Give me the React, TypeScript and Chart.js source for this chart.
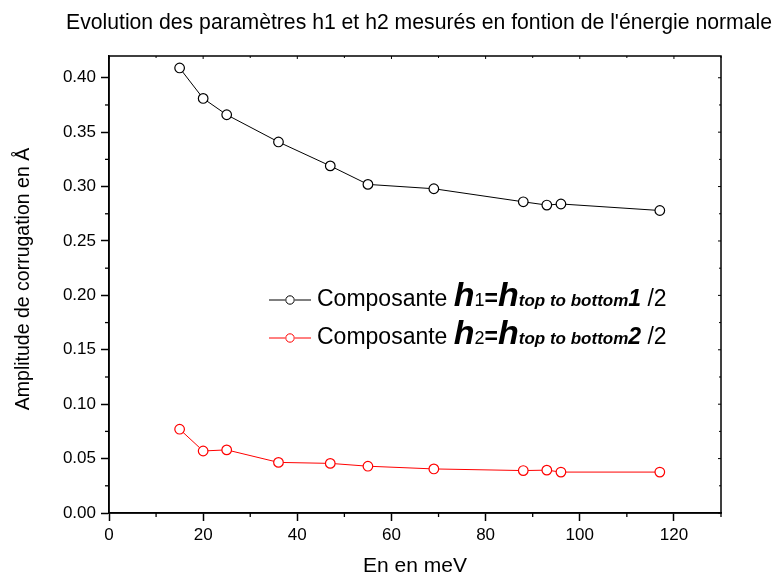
import React, { useEffect, useRef } from "react";
import { Chart, registerables } from "chart.js";
Chart.register(...registerables);

const energies = [15, 20, 25, 36, 47, 55, 69, 88, 93, 96, 117];
const h1Values = [0.409, 0.381, 0.366, 0.341, 0.319, 0.302, 0.298, 0.286, 0.283, 0.284, 0.278];
const h2Values = [0.077, 0.057, 0.058, 0.0465, 0.0456, 0.043, 0.0405, 0.039, 0.0394, 0.0376, 0.0376];
const titleText = "Evolution des paramètres h1 et h2 mesurés en fontion de l'énergie normale";
const xTitle = "En en meV";
const yTitle = "Amplitude de corrugation en Å";
const FONT = "'Liberation Sans', Arial, sans-serif";

const decorPlugin = {
  id: "decor",
  afterDraw(chart: any) {
    const ctx = chart.ctx;
    const { left, right, top, bottom } = chart.chartArea;
    const xs = chart.scales.x;
    const ys = chart.scales.y;
    ctx.save();
    // frame
    ctx.strokeStyle = "#000";
    ctx.lineWidth = 1.5;
    ctx.strokeRect(left, top, right - left, bottom - top);
    // minor & mirror ticks
    ctx.lineWidth = 1.3;
    for (let v = 10; v <= 130; v += 20) {
      const px = xs.getPixelForValue(v);
      ctx.beginPath();
      ctx.moveTo(px, bottom);
      ctx.lineTo(px, bottom + 4);
      ctx.stroke();
    }
    ctx.lineWidth = 1;
    for (let v = 0; v <= 130; v += 10) {
      const px = xs.getPixelForValue(v);
      ctx.beginPath();
      ctx.moveTo(px, top);
      ctx.lineTo(px, top + (v % 20 === 0 ? 3 : 2));
      ctx.stroke();
    }
    ctx.lineWidth = 1.3;
    for (let i = 0; i <= 8; i++) {
      const v = 0.025 + i * 0.05;
      if (v > 0.42) break;
      const py = ys.getPixelForValue(v);
      ctx.beginPath();
      ctx.moveTo(left, py);
      ctx.lineTo(left - 4, py);
      ctx.stroke();
    }
    ctx.lineWidth = 1;
    for (let i = 0; i <= 16; i++) {
      const v = i * 0.025;
      const py = ys.getPixelForValue(v);
      ctx.beginPath();
      ctx.moveTo(right, py);
      ctx.lineTo(right - (i % 2 === 0 ? 3 : 2), py);
      ctx.stroke();
    }
    // title
    ctx.fillStyle = "#000";
    ctx.font = `21.2px ${FONT}`;
    ctx.textAlign = "center";
    ctx.textBaseline = "middle";
    ctx.fillText(titleText, 419, 23);

    // y axis title
    ctx.save();
    ctx.translate(24, 279);
    ctx.rotate(-Math.PI / 2);
    ctx.font = `19.5px ${FONT}`;
    ctx.textAlign = "center";
    ctx.textBaseline = "middle";
    ctx.fillText(yTitle, 0, 0);
    ctx.restore();

    // legend
    const drawRow = (y: number, color: string, digit: string) => {
      ctx.strokeStyle = color;
      ctx.lineWidth = 1;
      ctx.beginPath();
      ctx.moveTo(269, y - 6);
      ctx.lineTo(285, y - 6);
      ctx.moveTo(295, y - 6);
      ctx.lineTo(311, y - 6);
      ctx.stroke();
      ctx.beginPath();
      ctx.arc(290, y - 6, 4.2, 0, Math.PI * 2);
      ctx.fillStyle = "#fff";
      ctx.fill();
      ctx.stroke();
      ctx.textAlign = "left";
      ctx.textBaseline = "alphabetic";
      ctx.fillStyle = "#000";
      let x = 317;
      const parts: [string, string][] = [
        ["Composante ", `23px ${FONT}`],
        ["h", `italic bold 34px ${FONT}`],
        [digit, `18px ${FONT}`],
        ["=", `bold 23px ${FONT}`],
        ["h", `italic bold 34px ${FONT}`],
        ["top to bottom", `italic bold 17px ${FONT}`],
        [digit, `italic bold 23px ${FONT}`],
        [" /2", `23px ${FONT}`],
      ];
      for (const [t, f] of parts) {
        ctx.font = f;
        ctx.fillText(t, x, y);
        x += ctx.measureText(t).width;
      }
    };
    drawRow(306, "#000", "1");
    drawRow(344, "#ff0000", "2");
    ctx.restore();
  },
};

export default function App() {
  const ref = useRef<HTMLCanvasElement | null>(null);
  useEffect(() => {
    if (!ref.current) return;
    const chart = new Chart(ref.current, {
      type: "line",
      data: {
        datasets: [
          {
            label: "h1",
            data: energies.map((e, i) => ({ x: e, y: h1Values[i] })),
            borderColor: "#000",
            borderWidth: 1,
            pointBackgroundColor: "#fff",
            pointBorderColor: "#000",
            pointBorderWidth: 1.2,
            pointRadius: 4.8,
            tension: 0,
          },
          {
            label: "h2",
            data: energies.map((e, i) => ({ x: e, y: h2Values[i] })),
            borderColor: "#ff0000",
            borderWidth: 1,
            pointBackgroundColor: "#fff",
            pointBorderColor: "#ff0000",
            pointBorderWidth: 1.2,
            pointRadius: 4.8,
            tension: 0,
          },
        ],
      },
      options: {
        animation: false,
        responsive: false,
        maintainAspectRatio: false,
        layout: { padding: { top: 56, right: 61, left: 0, bottom: 0 } },
        plugins: { legend: { display: false }, tooltip: { enabled: false }, title: { display: false } },
        scales: {
          x: {
            type: "linear",
            min: 0,
            max: 130,
            grid: { drawOnChartArea: false, tickLength: 8, tickWidth: 1.5, tickColor: "#000" },
            border: { display: true, color: "#000", width: 1.5 },
            ticks: { stepSize: 20, color: "#000", font: { family: FONT, size: 17 }, padding: 4, maxRotation: 0 },
            afterBuildTicks: (s: any) => {
              s.ticks = s.ticks.filter((t: any) => t.value % 20 === 0);
            },
            title: { display: true, text: xTitle, color: "#000", font: { family: FONT, size: 21 }, padding: { top: 0, bottom: 0 } },
            afterFit: (s: any) => {
              s.height = 66;
            },
          },
          y: {
            type: "linear",
            min: 0,
            max: 0.42,
            grid: { drawOnChartArea: false, tickLength: 8, tickWidth: 1.5, tickColor: "#000" },
            border: { display: true, color: "#000", width: 1.5 },
            ticks: {
              stepSize: 0.05,
              color: "#000",
              font: { family: FONT, size: 17 },
              padding: 5,
              callback: (v: any) => Number(v).toFixed(2),
            },
            afterBuildTicks: (s: any) => {
              s.ticks = s.ticks.filter((t: any) => Math.abs(t.value / 0.05 - Math.round(t.value / 0.05)) < 1e-6);
            },
            title: { display: false },
            afterFit: (s: any) => {
              s.width = 109;
            },
          },
        },
      },
      plugins: [decorPlugin],
    } as any);
    return () => chart.destroy();
  }, []);
  return (
    <div style={{ position: "fixed", left: 0, top: 0, width: 782, height: 579, background: "#fff" }}>
      <canvas ref={ref} width={782} height={579} style={{ width: 782, height: 579 }} />
    </div>
  );
}
